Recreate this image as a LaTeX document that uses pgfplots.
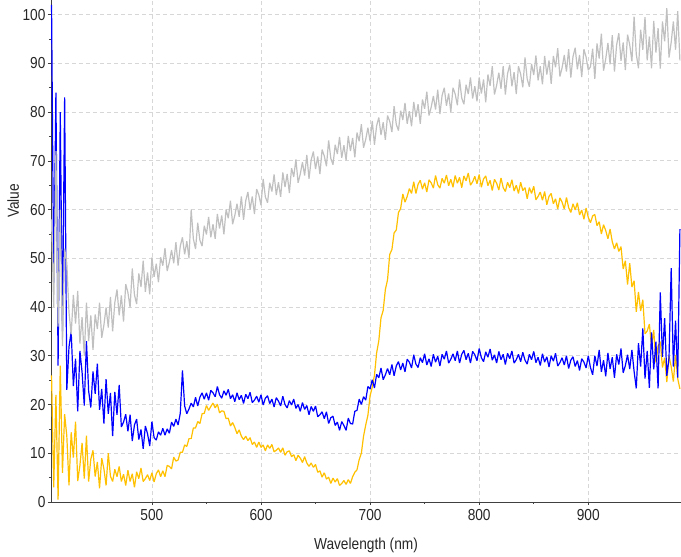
\documentclass[border=0pt]{standalone}
\usepackage{fontspec}
\setmainfont{Liberation Sans}
\newfontfamily\labelfont[FakeStretch=0.86]{Liberation Sans}
\usepackage{pgfplots}
\usepackage{pgfplotstable}
\pgfplotsset{compat=1.18}

\definecolor{specgray}{RGB}{192,192,192}
\definecolor{specgold}{RGB}{255,192,0}
\definecolor{specblue}{RGB}{0,0,255}
\definecolor{gridgray}{RGB}{215,215,215}

% wavelength (nm), reference, sample A, sample B
\pgfplotstableread{
wl gray gold blue
408 58 26 102
410 40 3 45
412 72 22 84
414 36 0.5 28
416 60 28 80
418 32 6 35
420 52 18 83
422 49 13.5 23
424 38.9 3.4 31.8
426 34.4 14.3 35
428 42.5 9.1 23.8
430 36.6 16.5 29.4
432 43.3 4.3 18.6
434 32.5 7.5 31
436 37.9 12.1 26.6
438 30 4.8 19.8
440 40.9 13.6 33
442 33 4.2 22.8
444 38.3 8.8 19.4
446 31.2 10.6 26.8
448 38.5 5.2 22.2
450 35.5 8.2 28.4
452 40.9 2.8 18.9
454 33.7 9 23.2
456 36.3 6.8 16.1
458 39.9 3.4 25.2
460 35.8 10 18.1
462 42.1 5.3 22.4
464 35 4.2 13.5
466 40.9 6.7 22.6
468 43.6 5.2 17.9
470 38.3 7.3 24
472 42.4 4.2 15.4
474 37 5.7 16.4
476 44.7 3.4 18
478 43 6.5 14.5
480 39.9 4.2 17.9
482 47.9 5.8 12.5
484 42.5 3 15.8
486 40.6 6.2 17
488 46.9 4.8 12.8
490 44.1 7 14.9
492 49.5 4.2 10.9
494 43.1 4.8 15.6
496 47.1 5.6 14
498 42.6 4.4 11.5
500 50.2 6 16.5
502 46.2 4.1 13.2
504 48.9 5.8 12.7
506 45.1 6.6 14.4
508 50.2 5.2 13.7
510 48.5 6.4 15.1
512 52.1 5.2 13.7
514 47.4 7.5 15
516 49.2 7.3 14.1
518 51.7 6.8 16.4
520 49 9.2 15.5
522 53.3 8.4 17
524 48.5 8.6 15.8
526 52.5 10.2 18.2
528 54.3 10.2 27
530 50.8 11.7 19.7
532 53.5 11.4 18.1
534 50 13 19.1
536 60 13 20.3
538 54 15.2 19.5
540 51.9 15.2 21.5
542 57.3 16.5 19.7
544 53.7 16.1 21.5
546 52.5 18.1 22.4
548 56.7 18.2 21.1
550 54.9 19.8 22.4
552 58.5 18.8 20.9
554 54.3 19.6 22.9
556 57 20.3 22.4
558 54 19.3 21.6
560 59.1 20.1 23.7
562 56.1 18.3 22
564 58.8 18.7 21.3
566 54.9 18.6 22.8
568 60 17.1 21.9
570 58.2 17.2 23.1
572 61.8 15.6 21.2
574 57 16.3 22
576 58.8 15.3 20.6
578 61.2 14 22.4
580 58.5 14.8 21
582 62.7 13.5 21.9
584 57.9 12.8 20.2
586 61.8 13.5 22.1
588 63.6 12.6 21.2
590 60 13.2 22.5
592 62.7 11.8 20.4
594 59.1 12.3 20.9
596 64.2 11.2 21.7
598 63 12.3 20.5
600 60.9 11.2 22
602 66.3 11.7 19.9
604 62.6 10.5 21.3
606 61.4 11.7 21.8
608 65.5 11 20.2
610 63.7 11.8 21.1
612 67.2 10.3 19.5
614 63 10.6 21.4
616 65.6 11.1 20.7
618 62.6 10.2 19.7
620 67.6 11.1 21.7
622 64.6 9.6 20
624 67.3 10.3 19.3
626 63.4 10.5 20.8
628 68.5 9.3 19.9
630 66.7 9.7 21.1
632 70.3 8.5 19.2
634 65.5 9.6 20
636 67.3 9 18.6
638 69.7 8.1 20.4
640 67 9.3 19
642 71.2 8 19.8
644 66.3 7.3 17.9
646 70.2 8 19.6
648 71.9 7.1 18.6
650 68.3 7.7 19.7
652 70.9 6.1 17.5
654 67.3 6.4 17.9
656 72.3 5.1 18.5
658 71 6 17.1
660 68.9 4.7 18.5
662 74.2 5.1 16.1
664 70.5 3.8 17.3
666 69.2 4.9 17.6
668 73.3 4.1 15.7
670 71.4 4.8 16.4
672 74.9 3.4 14.7
674 70.6 3.8 16.5
676 73.2 4.4 15.7
678 70.1 3.6 14.7
680 75.1 4.6 17.2
682 72 3.8 16.1
684 74.7 5.2 16
686 70.7 6.1 18.6
688 75.8 6.6 18.8
690 74 8.7 21.1
692 77.5 10 20
694 72.7 13.5 21.6
696 74.4 15.8 20.9
698 76.8 17.8 23.7
700 74 21.8 23.2
702 78.2 23.6 25.1
704 73.3 26 23.4
706 77.2 30.6 26.2
708 78.9 33.1 25.5
710 75.3 37.8 27.5
712 77.9 39.3 25.1
714 74.3 43.6 26.1
716 79.3 45.6 27.4
718 78.1 50.8 26.1
720 75.9 51.8 28.2
722 81.2 55.2 25.9
724 77.5 55.8 27.9
726 76.2 59.4 28.8
728 80.3 60.2 27.1
730 78.4 63.2 28.5
732 81.9 61.5 26.7
734 77.6 62.7 29.3
736 80.2 64.3 28.7
738 77.1 63.3 27.5
740 82.1 65.7 30.2
742 79 63.3 28.3
744 81.6 65.2 27.6
746 77.6 66 29.6
748 82.6 64.2 28.6
750 80.7 65.5 30.4
752 84.2 63.6 28.1
754 79.3 66.1 29.4
756 81 65.5 27.8
758 83.3 64.4 30.3
760 80.5 67 28.7
762 84.6 65.1 29.9
764 79.6 64.4 27.9
766 83.4 66.4 30.3
768 85 65.4 29.3
770 81.3 67.1 31
772 83.8 64.9 28.5
774 80 66.2 29.3
776 85 64.6 30.4
778 83.7 67 29
780 81.4 65.4 31
782 86.7 66.6 28.5
784 82.9 64.5 30.3
786 81.6 66.9 31.1
788 85.6 65.9 29.2
790 83.7 67.5 30.5
792 87.1 65 28.5
794 82.8 65.7 30.9
796 85.3 66.8 30.2
798 82.2 65.3 29
800 87.1 67.2 31.5
802 83.8 64.6 29.6
804 86.7 66.3 28.8
806 82 66.9 30.8
808 87.7 64.9 29.7
810 85.4 66 31.4
812 89.4 63.9 29.1
814 83.6 66.2 30.2
816 85.5 65.4 28.5
818 88.1 64 30.9
820 84.8 66.5 29.2
822 89.4 64.5 30.3
824 83.6 63.7 28.2
826 87.9 65.6 30.5
828 89.7 64.5 29.4
830 85.3 66.1 31
832 88.2 63.8 28.5
834 83.7 65 29.2
836 89.4 63.3 30.3
838 87.8 65.6 28.8
840 85.1 63.9 30.7
842 91.2 64.5 29.1
844 86.8 62.2 28.3
846 85.2 64.5 30.3
848 89.9 63.3 29.2
850 87.6 64.8 30.9
852 91.6 62 28.6
854 86.5 62.7 29.7
856 89.4 63.6 28
858 85.7 61.9 30.4
860 91.5 63.7 28.7
862 87.7 61 29.8
864 90.6 62.7 27.7
866 85.8 63.3 30
868 91.5 61.2 28.9
870 89.2 62.2 30.5
872 93.1 60.1 27.9
874 87.3 62.4 28.6
876 89.1 61.5 29.6
878 91.7 60.1 28.1
880 88.3 62.5 30
882 92.9 60.4 27.4
884 87.1 59.4 29.1
886 91.4 61.2 29.8
888 93.2 59.9 27.8
890 88.8 61.4 29
892 91.7 58.9 27
894 87.2 59.9 29.4
896 92.9 58 28.7
898 91.3 60.3 27.5
900 88.6 58.4 30
902 89.3 57.3 27.6
904 93 58.7 26.1
906 86.8 59 30
908 94.1 56.7 27.9
910 91 57.5 31.2
912 96.1 55 26.7
914 88.5 56.9 29.1
916 90.9 55.7 25.8
918 94.2 54 30.6
920 89.8 56 27.3
922 95.8 53.4 29.7
924 88.3 51.9 25.5
926 93.8 53.2 30.3
928 96.2 51.4 28.2
930 90.5 52.4 31.5
932 94.3 47.8 26.5
934 88.6 49.5 28
936 95.9 44.6 30.2
938 93.8 49 27.3
940 90.4 44.1 31.2
942 99.6 45.4 26.8
944 91.9 39 23.3
946 89 43.1 32.6
948 96.9 39.2 27.8
950 92.8 41.5 35.6
952 99.5 34.5 25.3
954 90.6 35.1 31
956 95.5 36.5 23.4
958 89 31.9 34.8
960 98.7 35.3 27.2
962 92.2 28.6 32.9
964 97.2 32 23.3
966 88.9 32.9 43
968 98.6 27.6 29.8
970 94.5 29.6 37.7
972 101.3 24.6 25.9
974 91.2 29.9 29.5
976 94.3 27.8 48
978 98.6 24.7 27.8
980 92.8 30.2 37.2
982 100.7 25.3 25.5
984 90.6 23.2 56
}\spectra

\begin{document}
\begin{tikzpicture}
\begin{axis}[
  scale only axis,
  width=630bp, height=502bp,
  xmin=407.5, xmax=985,
  ymin=0, ymax=103,
  axis lines=left,
  axis line style={-, draw=black!75, line width=0.8bp},
  xtick={500,600,700,800,900},
  ytick={0,10,...,100},
  minor x tick num=1,
  minor y tick num=1,
  tick align=outside,
  major tick length=3bp,
  minor tick length=2bp,
  tick style={black!75, line width=0.6bp},
  grid=major,
  major grid style={gridgray, line width=0.7bp, dash pattern=on 4bp off 3bp},
  tick label style={font=\labelfont\fontsize{16}{18}\selectfont, text=black!85},
  /pgf/number format/assume math mode=true,
  xticklabel style={yshift=-1bp},
  yticklabel style={xshift=1bp},
  xlabel={Wavelength (nm)},
  ylabel={Value},
  label style={font=\labelfont\fontsize{16}{18}\selectfont, text=black!85},
  xlabel style={at={(axis description cs:0.5,-0.086)}, anchor=center},
  ylabel style={at={(axis description cs:-0.06,0.6)}, anchor=center},
  clip=true,
]
\coordinate (bl) at (rel axis cs:0,0);
\coordinate (tr) at (rel axis cs:1,1);
\addplot[specgold, line width=1.2bp, line join=bevel] table[x=wl, y=gold] {\spectra};
\addplot[specblue, line width=1.2bp, line join=bevel] table[x=wl, y=blue] {\spectra};
\addplot[specgray, line width=1.2bp, line join=bevel] table[x=wl, y=gray] {\spectra};
\end{axis}
\pgfresetboundingbox
\path[use as bounding box] ([xshift=-51bp,yshift=-55bp]bl) rectangle (tr);
\end{tikzpicture}
\end{document}
